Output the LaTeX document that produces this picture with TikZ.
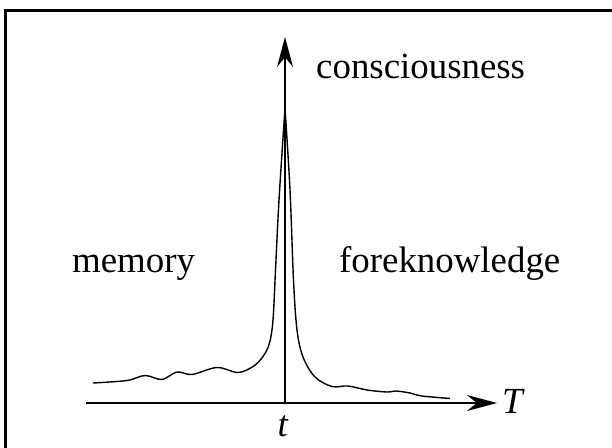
\documentclass[tikz,border=0pt]{standalone}
\usepackage{fontspec}
\setmainfont{Liberation Serif}
\usetikzlibrary{arrows.meta}
\begin{document}
\begin{tikzpicture}[x=1bp, y=-1bp,
    axis/.style={line width=1.5bp, -{Stealth[length=30bp, width=16bp]}},
    lbl/.style={anchor=base west, inner sep=0pt, font=\fontsize{37}{40}\selectfont}]
                \useasboundingbox (0,0) rectangle (612,448);
                % Frame (right and bottom edges fall outside)
                \draw[line width=3bp] (620,11) -- (5,11) -- (5,460);
                
                % Axes
                \coordinate (O) at (285,403);
                \coordinate (Tend) at (497,403);
                \coordinate (Top) at (285,37);
                \draw[axis] (86,403) -- (Tend);
                \draw[axis] (O) -- (Top);
                
                % Past (left) and future (right) parts of the curve
                \coordinate (peak) at (285,108);
                \draw[line width=1.4bp] plot[smooth, tension=0.55] coordinates {(93,383) (127,380.5) (145,375.5) (162,379.5) (177,372) (192,374.5) (217,367.5) (238,372.5) (253,366.5) (263,356.5) (269.5,343) (273,320) (275.5,270) (279,200) (peak)};
                \draw[line width=1.4bp] plot[smooth, tension=0.55] coordinates {(peak) (290,190) (293.5,280) (297,330) (303,357) (315,377) (332,386.5) (348,386) (367,390) (387,392) (396,391) (410,393) (422,396) (450,398.5)};
                
                % Labels
                \node[lbl] (cons) at (316,79) {consciousness};
                \node[lbl] (mem) at (72,273) {memory};
                \node[lbl] (fore) at (339,273) {foreknowledge};
                \node[lbl] (T) at (502,413) {\textit{T}};
                \node[lbl, anchor=base] (t) at (283,436) {\textit{t}};
            \end{tikzpicture}
\end{document}
